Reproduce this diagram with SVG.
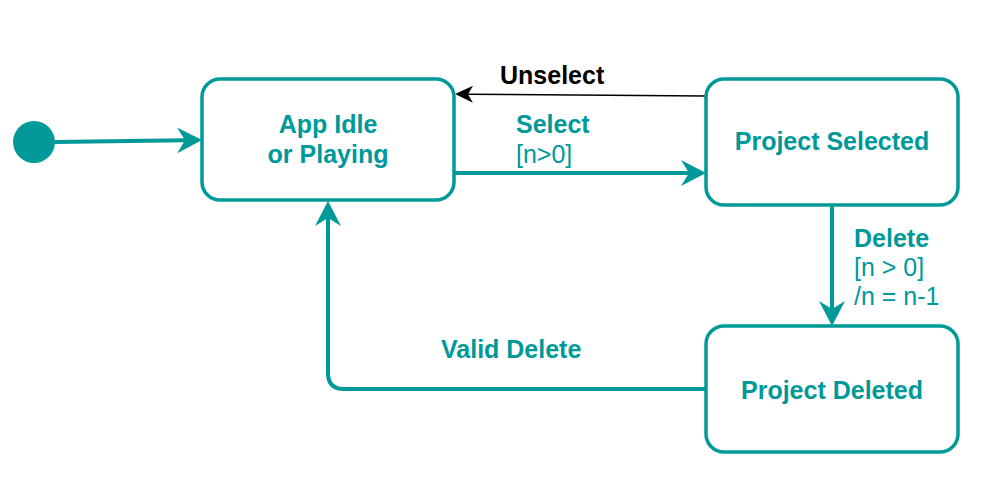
<svg xmlns="http://www.w3.org/2000/svg" width="994" height="484" viewBox="0 0 994 484">
<style>
.node{fill:#ffffff;stroke:#009999;stroke-width:3.5}
.t{font-family:"Liberation Sans",Arial,sans-serif;font-size:25px;fill:#009999}
.b{font-weight:bold}
.c{text-anchor:middle}
.k{fill:#000000}
.edge{fill:none;stroke:#009999;stroke-width:4}
.thin{fill:none;stroke:#000000;stroke-width:1.5}
</style>
<defs>
<marker id="arr" markerUnits="userSpaceOnUse" markerWidth="26" markerHeight="26" refX="8" refY="13" orient="auto" viewBox="0 0 26 26">
<path d="M0,0 L25,13 L0,26 L8,13 Z" fill="#009999"/>
</marker>
<marker id="arrk" markerUnits="userSpaceOnUse" markerWidth="19" markerHeight="17" refX="5" refY="8.5" orient="auto" viewBox="0 0 19 17">
<path d="M0,0 L18,8.5 L0,17 L5,8.5 Z" fill="#000000"/>
</marker>
</defs>
<rect width="994" height="484" fill="#ffffff"/>
<g id="connectors">
<path class="edge" d="M55,142 L185,140.2" marker-end="url(#arr)"/>
<path class="thin" d="M706,96 L468,94.2" marker-end="url(#arrk)"/>
<path class="edge" d="M454,173 L689,173" marker-end="url(#arr)"/>
<path class="edge" d="M832,205 L832,309" marker-end="url(#arr)"/>
<path class="edge" d="M706,389 L344,389 Q328,389 328,373 L328,218" marker-end="url(#arr)"/>
<text class="t b k" x="500" y="84">Unselect</text>
<text class="t b" x="516" y="133">Select</text>
<text class="t" x="516" y="163">[n&gt;0]</text>
<text class="t b" x="854" y="247">Delete</text>
<text class="t" x="854" y="276">[n &gt; 0]</text>
<text class="t" x="854" y="305">/n = n-1</text>
<text class="t b" x="441" y="358">Valid Delete</text>
</g>
<g id="initial">
<circle cx="34" cy="142" r="21" fill="#009999"/>
</g>
<g id="app-idle">
<rect class="node" x="202" y="79" width="252" height="121" rx="18"/>
<text class="t b c" x="328" y="133">App Idle</text>
<text class="t b c" x="328" y="163">or Playing</text>
</g>
<g id="project-selected">
<rect class="node" x="706" y="79" width="252" height="126" rx="18"/>
<text class="t b c" x="832" y="150">Project Selected</text>
</g>
<g id="project-deleted">
<rect class="node" x="706" y="326" width="252" height="126" rx="18"/>
<text class="t b c" x="832" y="399">Project Deleted</text>
</g>
</svg>
